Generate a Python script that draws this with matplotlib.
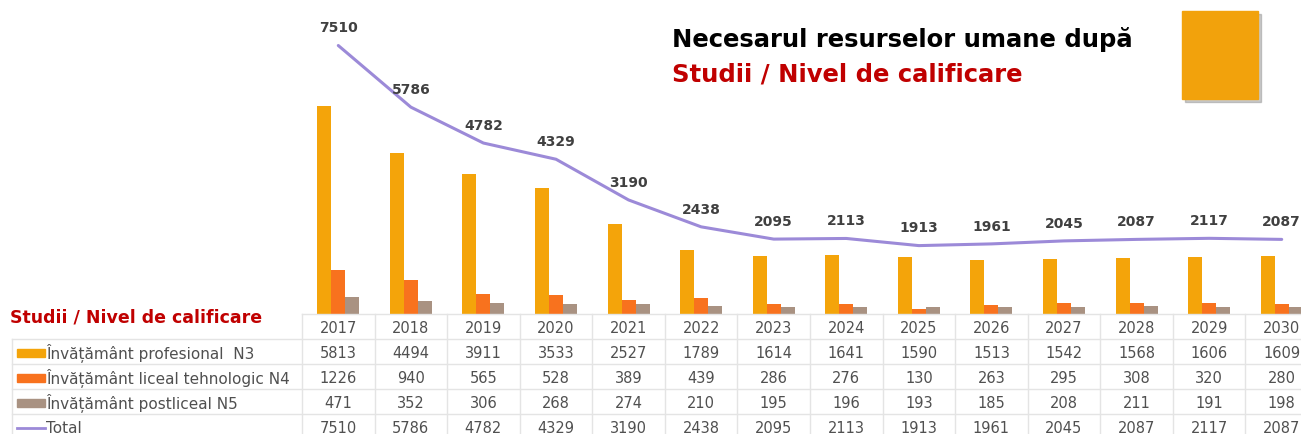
import matplotlib
matplotlib.use("Agg")
import matplotlib.pyplot as plt
from matplotlib.patches import Rectangle
import numpy as np

years = ["2017", "2018", "2019", "2020", "2021", "2022", "2023", "2024",
         "2025", "2026", "2027", "2028", "2029", "2030"]
n3 = [5813, 4494, 3911, 3533, 2527, 1789, 1614, 1641, 1590, 1513, 1542, 1568, 1606, 1609]
n4 = [1226, 940, 565, 528, 389, 439, 286, 276, 130, 263, 295, 308, 320, 280]
n5 = [471, 352, 306, 268, 274, 210, 195, 196, 193, 185, 208, 211, 191, 198]
total = [7510, 5786, 4782, 4329, 3190, 2438, 2095, 2113, 1913, 1961, 2045, 2087, 2117, 2087]

series_labels = ["Învățământ profesional  N3", "Învățământ liceal tehnologic N4",
                 "Învățământ postliceal N5", "Total"]
title1 = "Necesarul resurselor umane după"
title2 = "Studii / Nivel de calificare"

c_n3 = "#F4A40A"
c_n4 = "#F8721E"
c_n5 = "#A99282"
c_tot = "#9C8AD8"
c_txt = "#505050"
c_lbl = "#404040"
c_red = "#C00000"
c_grid = "#E4E4E4"

plt.rcParams['font.family'] = ['DejaVu Sans']

W, H = 1301, 435
fig = plt.figure(figsize=(W / 100, H / 100), dpi=100)

def fx(px):
    return px / W

def fy(py):
    return 1 - py / H

left_px, right_px = 302, 1318
base_px, top_px = 315, 29
ax = fig.add_axes([fx(left_px), fy(base_px), fx(right_px - left_px), (base_px - top_px) / H])
ax.set_xlim(-0.5, len(years) - 0.5)
ax.set_ylim(0, 8000)
ax.axis("off")

x = np.arange(len(years))
bw = 0.193
ax.bar(x - bw, n3, bw, color=c_n3)
ax.bar(x, n4, bw, color=c_n4)
ax.bar(x + bw, n5, bw, color=c_n5)
ax.plot(x, total, color=c_tot, lw=2.2, solid_capstyle="round")
for xi, t in zip(x, total):
    ax.annotate(f"{t}", (xi, t), xytext=(0, 8), textcoords="offset points",
                ha="center", va="bottom", fontsize=10, color=c_lbl, fontweight="bold")

# table axes
row_h = 25
nrows = 5
tab = fig.add_axes([fx(left_px), fy(base_px + nrows * row_h), fx(right_px - left_px), nrows * row_h / H])
tab.set_xlim(-0.5, len(years) - 0.5)
tab.set_ylim(nrows, 0)
tab.axis("off")

unit_px = (right_px - left_px) / len(years)
lab_left = -0.5 - (left_px - 12) / unit_px

tab.plot([-0.5, len(years) - 0.5], [0, 0], color=c_grid, lw=1, clip_on=False)
for r in range(1, nrows + 1):
    tab.plot([lab_left, len(years) - 0.5], [r, r], color=c_grid, lw=1, clip_on=False)
for k in range(len(years) + 1):
    tab.plot([k - 0.5, k - 0.5], [0, nrows], color=c_grid, lw=1, clip_on=False)
tab.plot([lab_left, lab_left], [1, nrows], color=c_grid, lw=1, clip_on=False)

rows = [years, n3, n4, n5, total]
for r, vals in enumerate(rows):
    for xi, v in zip(x, vals):
        tab.text(xi, r + 0.55, f"{v}", ha="center", va="center", fontsize=10.5,
                 color=c_txt, clip_on=False)

key_x0 = lab_left + (17 - 12) / unit_px
key_w = 28 / unit_px
txt_x = lab_left + (46 - 12) / unit_px
for i, (lab, col) in enumerate(zip(series_labels[:3], [c_n3, c_n4, c_n5])):
    r = i + 1
    tab.add_patch(Rectangle((key_x0, r + 0.55 - 0.16), key_w, 0.32, color=col, clip_on=False))
    tab.text(txt_x, r + 0.55, lab, ha="left", va="center", fontsize=11, color=c_txt, clip_on=False)
tab.plot([key_x0, key_x0 + key_w], [4.55, 4.55], color=c_tot, lw=2, clip_on=False)
tab.text(txt_x, 4.55, series_labels[3], ha="left", va="center", fontsize=11, color=c_txt, clip_on=False)

fig.text(fx(10), fy(318), title2, ha="left", va="center", fontsize=12.5, color=c_red, fontweight="bold")

fig.text(fx(672), fy(40), title1, ha="left", va="center", fontsize=17.5, color="black", fontweight="bold")
fig.text(fx(672), fy(75), title2, ha="left", va="center", fontsize=17.5, color=c_red, fontweight="bold")

fig.patches.append(Rectangle((fx(1185), fy(103)), fx(76), 88 / H, transform=fig.transFigure,
                             color="#8A8A8A", alpha=0.45, zorder=0))
fig.patches.append(Rectangle((fx(1182), fy(100)), fx(76), 88 / H, transform=fig.transFigure,
                             color="#F2A20C", zorder=1))

fig.savefig("out.png", dpi=100)
